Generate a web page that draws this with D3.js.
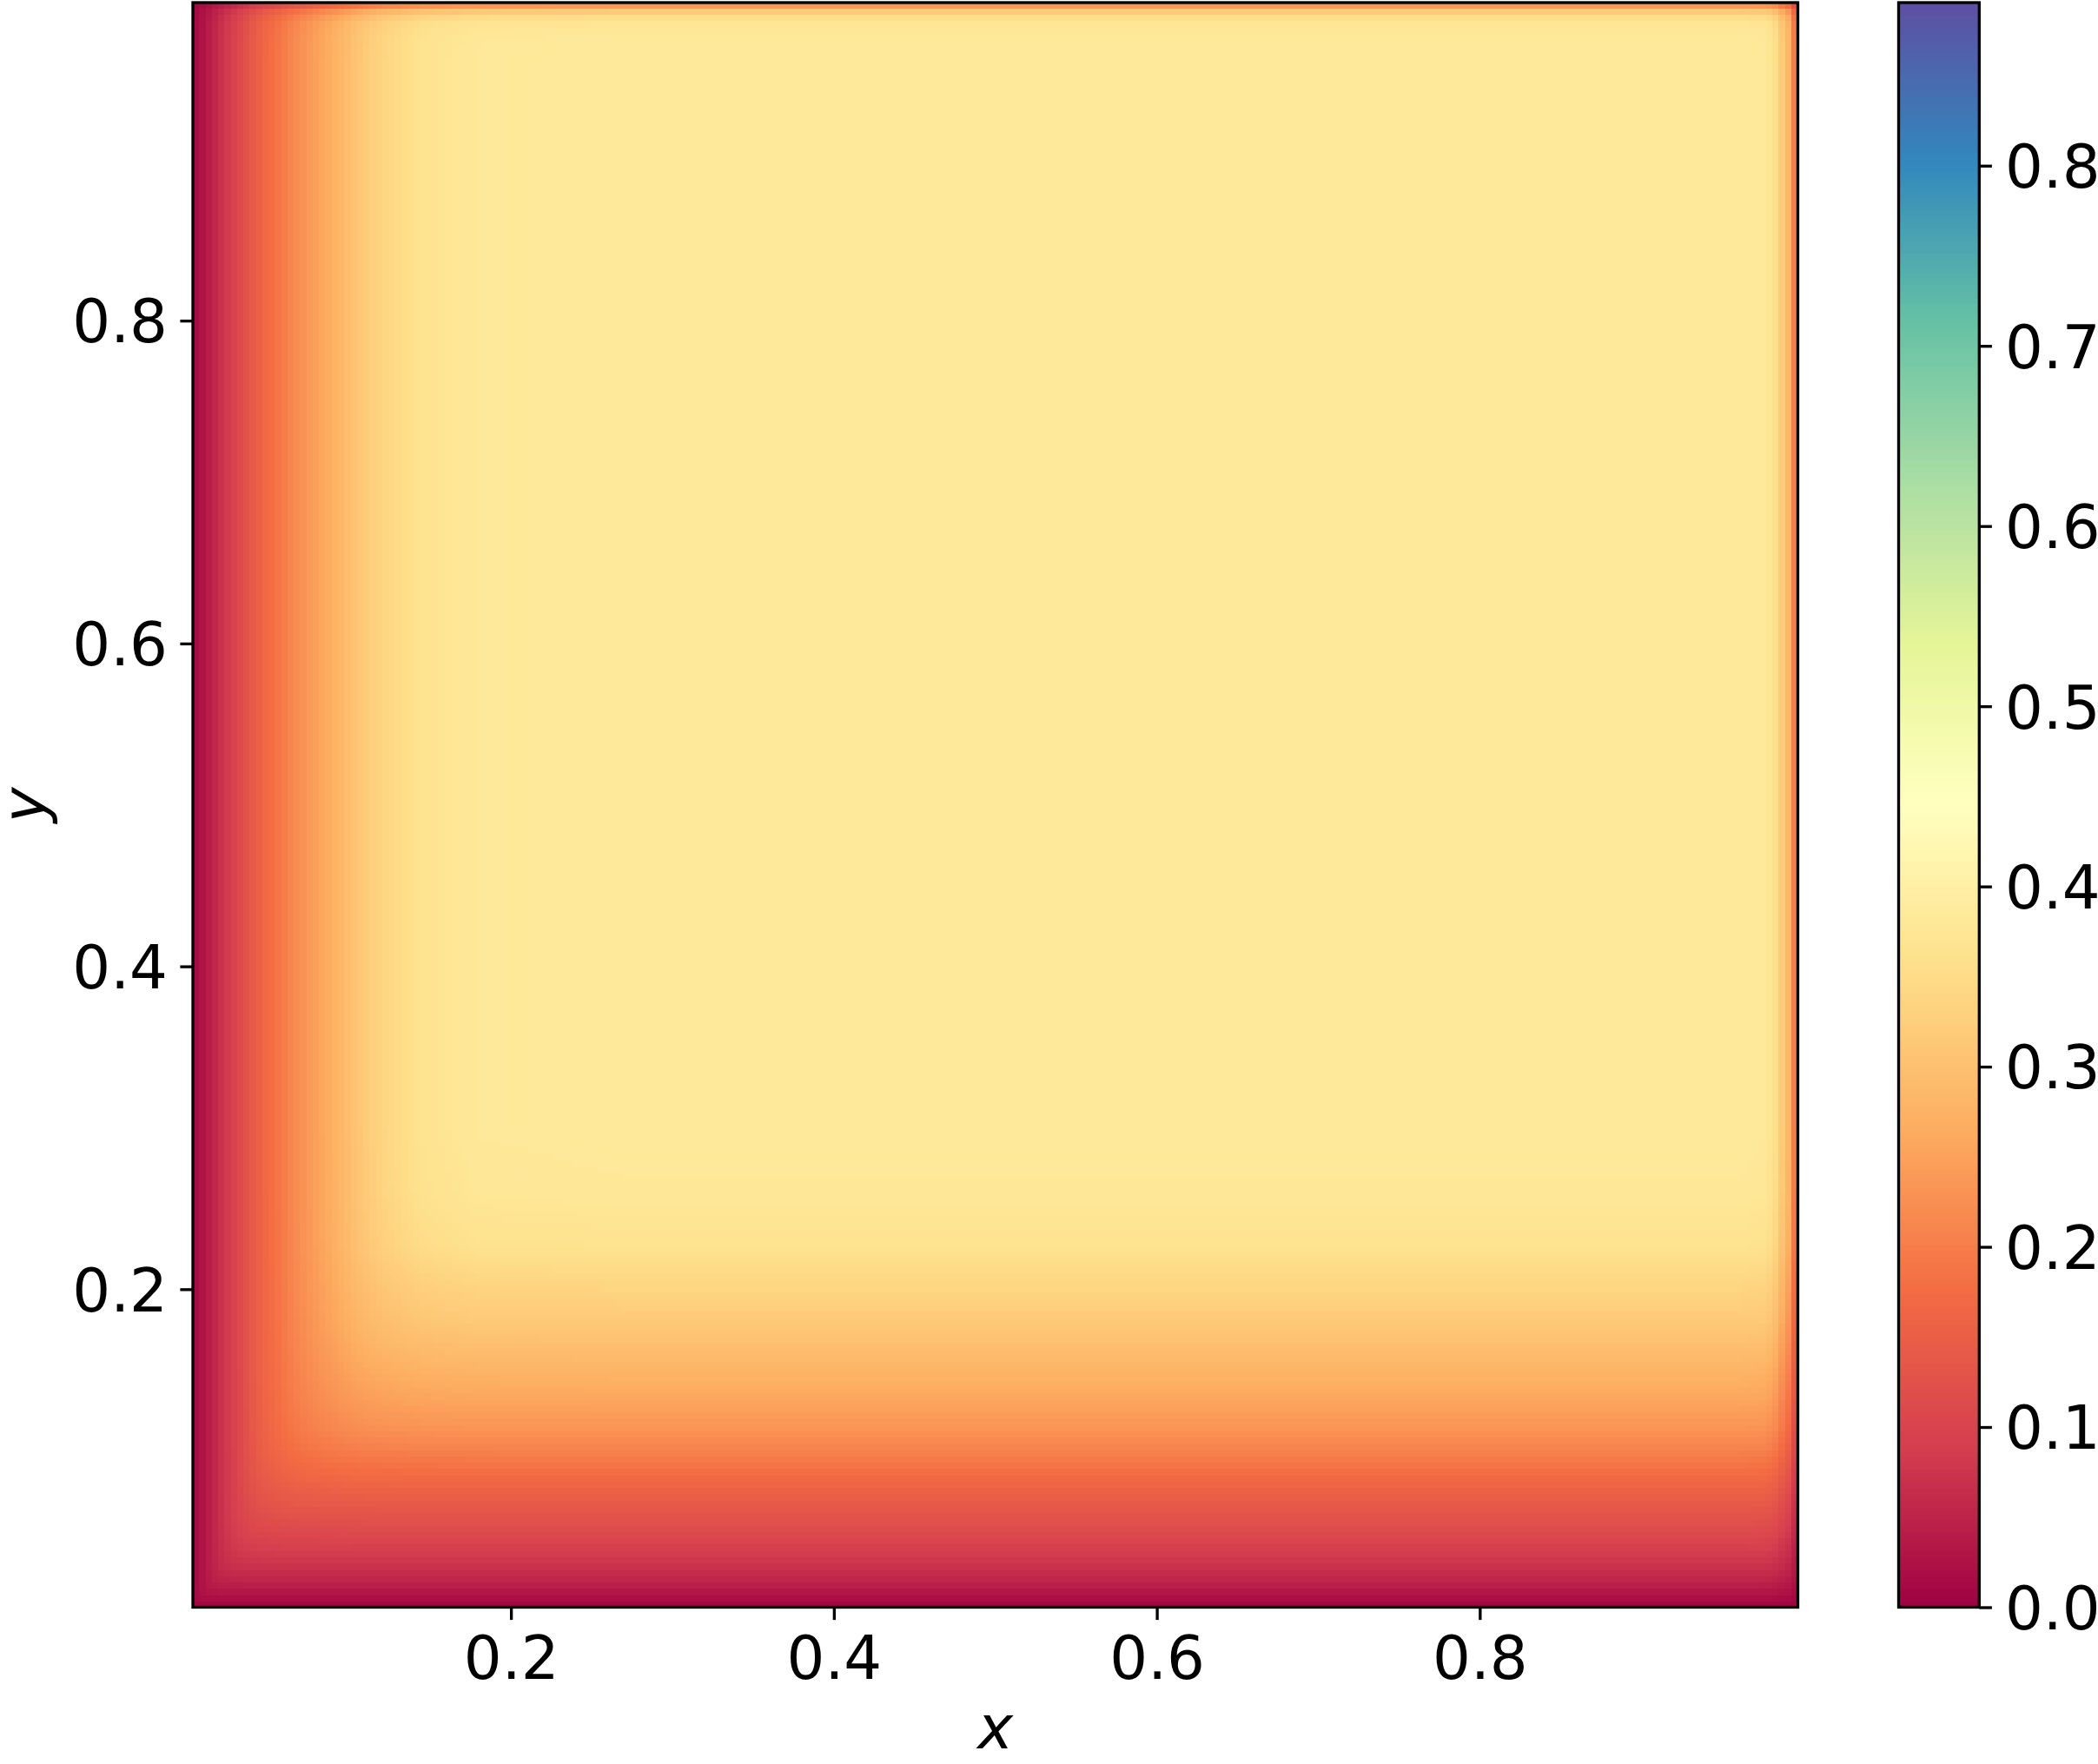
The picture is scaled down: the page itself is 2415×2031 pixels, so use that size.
<!DOCTYPE html>
<html lang="en">
<head>
<meta charset="UTF-8">
<title>Field heatmap</title>
<script src="https://d3js.org/d3.v7.min.js"></script>
<style>
    body { margin: 0; background: #fff; }
    text { font-family: "DejaVu Sans", sans-serif; fill: #000; }
</style>
</head>
<body>

<script>

// ================== DATA ==================
// left boundary layer: value along x, away from the other walls
var leftX = [0.003, 0.007, 0.0143, 0.023, 0.030, 0.0376, 0.0457, 0.0538, 0.0627, 0.0753, 0.0896, 0.104, 0.120, 0.145, 0.179, 0.27];
var leftV = [0.012, 0.021, 0.047, 0.079, 0.102, 0.132, 0.162, 0.183, 0.209, 0.240, 0.271, 0.306, 0.337, 0.365, 0.380, 0.383];

// bottom boundary layer: value along y
var bottomY = [0.003, 0.008, 0.014, 0.021, 0.030, 0.043, 0.057, 0.075, 0.087, 0.102, 0.115, 0.133, 0.155, 0.182, 0.209, 0.228, 0.26, 0.30];
var bottomV = [0.003, 0.016, 0.036, 0.055, 0.075, 0.098, 0.125, 0.155, 0.178, 0.209, 0.234, 0.258, 0.285, 0.319, 0.344, 0.365, 0.378, 0.383];

// thin layers on the right and top walls
var rightX = [0.96, 0.975, 0.979, 0.983, 0.987, 0.991, 0.995];
var rightV = [0.383, 0.381, 0.372, 0.356, 0.319, 0.283, 0.196];
var topY = [0.96, 0.975, 0.9845, 0.988, 0.992, 0.995];
var topV = [0.383, 0.382, 0.372, 0.353, 0.315, 0.240];

var plateau = 0.383;      // value in the flat interior
var vmax = 0.8905;        // top of the colour bar

var xTicks = [0.2, 0.4, 0.6, 0.8];
var yTicks = [0.2, 0.4, 0.6, 0.8];
var cbarTicks = [0.0, 0.1, 0.2, 0.3, 0.4, 0.5, 0.6, 0.7, 0.8];

// matplotlib "Spectral" (ColorBrewer 11 classes)
var spectral = ["#9e0142", "#d53e4f", "#f46d43", "#fdae61", "#fee08b", "#ffffbf",
                "#e6f598", "#abdda4", "#66c2a5", "#3288bd", "#5e4fa2"];

// ================== INIT SVG ==================
var w = 2415;
var h = 2031;
var plotLeft = 222;
var plotTop = 3;
var size = 1847.5;
var cbarLeft = 2185.5;
var cbarWidth = 92.8;
var lineW = 3.33;
var tickLen = 14.6;
var fontSize = 69;

var svg = d3.select("body").append("svg")
            .attr("width", w)
            .attr("height", h);

var chart = svg.append("g")
            .attr("transform", "translate(" + plotLeft + "," + plotTop + ")");

// ================== SCALES ==================
var x = d3.scaleLinear().domain([0.003, 0.997]).range([0, size]);
var y = d3.scaleLinear().domain([0.003, 0.997]).range([size, 0]);

var color = d3.scaleLinear()
            .domain(spectral.map(function(c, i){ return i / 10 * vmax; }))
            .range(spectral)
            .interpolate(d3.interpolateRgb)
            .clamp(true);

var leftScale = d3.scaleLinear().domain(leftX).range(leftV).clamp(true);
var bottomScale = d3.scaleLinear().domain(bottomY).range(bottomV).clamp(true);
var rightScale = d3.scaleLinear().domain(rightX).range(rightV).clamp(true);
var topScale = d3.scaleLinear().domain(topY).range(topV).clamp(true);

// left and bottom layers meet in a rounded corner (soft minimum),
// the thin right/top layers just scale the value down
var k = 4;
function fieldValue(px, py){
    var a = leftScale(px), b = bottomScale(py);
    var soft = Math.pow(Math.pow(a, -k) + Math.pow(b, -k) - Math.pow(plateau, -k), -1 / k);
    return soft * (rightScale(px) / plateau) * (topScale(py) / plateau);
}

// fine cells near the walls, wide cells where the field is flat
function cellEdges(fine){
    var e = [], v = 0.003;
    while (v < 0.997 - 1e-9) {
        e.push(v);
        var inFine = fine.some(function(z){ return v >= z[0] && v < z[1]; });
        v += inFine ? 1 / 256 : 0.05;
    }
    e.push(0.997);
    return e;
}
var xEdges = cellEdges([[0, 0.30], [0.94, 1]]);
var yEdges = cellEdges([[0, 0.34], [0.94, 1]]);

var cells = [];
for (var i = 0; i < xEdges.length - 1; i++) {
    for (var j = 0; j < yEdges.length - 1; j++) {
        var x0 = xEdges[i], x1 = Math.min(xEdges[i + 1], 0.997);
        var y0 = yEdges[j], y1 = Math.min(yEdges[j + 1], 0.997);
        cells.push({x0: x0, x1: x1, y0: y0, y1: y1,
                    value: fieldValue((x0 + x1) / 2, (y0 + y1) / 2)});
    }
}

// ================== HEATMAP ==================
svg.append("defs").append("clipPath")
    .attr("id", "plotclip")
    .append("rect")
    .attr("width", size)
    .attr("height", size);

chart.append("g")
    .attr("clip-path", "url(#plotclip)")
    .selectAll("rect")
    .data(cells)
    .enter()
        .append("rect")
        .attr("x", function(d){ return x(d.x0); })
        .attr("y", function(d){ return y(d.y1); })
        .attr("width", function(d){ return x(d.x1) - x(d.x0) + 0.6; })
        .attr("height", function(d){ return y(d.y0) - y(d.y1) + 0.6; })
        .attr("fill", function(d){ return color(d.value); })
        .attr("shape-rendering", "crispEdges");

chart.append("rect")
    .attr("width", size)
    .attr("height", size)
    .attr("fill", "none")
    .attr("stroke", "#000")
    .attr("stroke-width", lineW);

// ================== AXES ==================
var xAxis = d3.axisBottom(x).tickValues(xTicks).tickSize(tickLen).tickPadding(19)
            .tickFormat(d3.format(".1f"));
var yAxis = d3.axisLeft(y).tickValues(yTicks).tickSize(tickLen).tickPadding(14.4)
            .tickFormat(d3.format(".1f"));

function styleAxis(g){
    g.select(".domain").remove();
    g.selectAll("line").attr("stroke", "#000").attr("stroke-width", lineW);
    g.selectAll("text").attr("font-size", fontSize).attr("font-family", "DejaVu Sans");
}

chart.append("g")
    .attr("transform", "translate(0," + size + ")")
    .call(xAxis)
    .call(styleAxis);

chart.append("g")
    .call(yAxis)
    .call(styleAxis)
    .selectAll("text").attr("dy", "0.36em");

// axis labels
svg.append("text")
    .attr("x", plotLeft + size / 2)
    .attr("y", 2013)
    .attr("text-anchor", "middle")
    .attr("font-size", fontSize)
    .attr("font-style", "italic")
    .text("x");

svg.append("text")
    .attr("transform", "translate(52," + (plotTop + size / 2) + ") rotate(-90)")
    .attr("text-anchor", "middle")
    .attr("font-size", fontSize)
    .attr("font-style", "italic")
    .text("y");

// ================== COLOUR BAR ==================
var cbar = svg.append("g")
            .attr("transform", "translate(" + cbarLeft + "," + plotTop + ")");
var cy = d3.scaleLinear().domain([0, vmax]).range([size, 0]);
var levels = d3.range(256);

cbar.selectAll("rect.level")
    .data(levels)
    .enter()
        .append("rect")
        .classed("level", true)
        .attr("x", 0)
        .attr("width", cbarWidth)
        .attr("y", function(d){ return cy((d + 1) / 256 * vmax); })
        .attr("height", function(d){ return cy(d / 256 * vmax) - cy((d + 1) / 256 * vmax) + 0.6; })
        .attr("fill", function(d){ return color((d + 0.5) / 256 * vmax); })
        .attr("shape-rendering", "crispEdges");

cbar.append("rect")
    .attr("width", cbarWidth)
    .attr("height", size)
    .attr("fill", "none")
    .attr("stroke", "#000")
    .attr("stroke-width", lineW);

var cAxis = d3.axisRight(cy).tickValues(cbarTicks).tickSize(tickLen).tickPadding(15)
            .tickFormat(d3.format(".1f"));

cbar.append("g")
    .attr("transform", "translate(" + cbarWidth + ",0)")
    .call(cAxis)
    .call(styleAxis)
    .selectAll("text").attr("dy", "0.36em");

</script>
</body>
</html>
